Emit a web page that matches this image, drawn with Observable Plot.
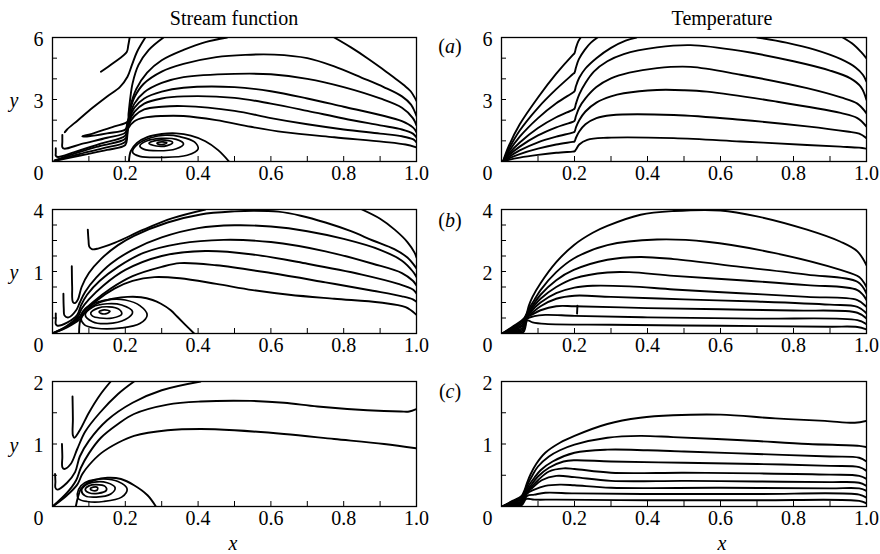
<!DOCTYPE html>
<html><head><meta charset="utf-8">
<script src="https://cdn.jsdelivr.net/npm/d3@7"></script>
<script src="https://cdn.jsdelivr.net/npm/@observablehq/plot@0.6"></script>
<style>
body{margin:0;background:#fff;}
#fig{position:relative;width:880px;height:554px;font-family:"Liberation Serif",serif !important;color:#000;overflow:hidden;}
#fig svg text{font-family:"Liberation Serif",serif !important;font-size:20px !important;}
.lbl{position:absolute;font-family:"Liberation Serif",serif !important;font-size:20px;line-height:1;white-space:nowrap;transform:translate(-50%,-50%);}
.it{font-style:italic;}
.panel{position:absolute;}
</style></head><body><div id="fig"></div>
<script>
// ---------- tick values / labels ----------
const xTickVals = [0.2, 0.4, 0.6, 0.8, 1.0];
const xTickText = ["0.2", "0.4", "0.6", "0.8", "1.0"];
const xMinorTicks = [0.1, 0.2, 0.3, 0.4, 0.5, 0.6, 0.7, 0.8, 0.9];
const yMinorA = [1, 2, 3, 4, 5];
const yMinorB = [0.5, 1, 1.5, 2, 2.5, 3, 3.5];
const yMinorC = [0.5, 1, 1.5];
const yLabelsStreamA = [[6, "6"], [3, "3"]];
const yLabelsTempA = [[6, "6"], [3, "3"]];
const yLabelsStreamB = [[4, "4"], [2, "1"]];
const yLabelsTempB = [[4, "4"], [2, "2"]];
const yLabelsStreamC = [[2, "2"], [1, "1"]];
const yLabelsTempC = [[2, "2"], [1, "1"]];

// ---------- Stream function (a) ----------
const streamA_lines = [
  [[0.133,4.34],[0.17,4.8],[0.204,5.3],[0.208,5.6],[0.212,6.0]],
  [[0.034,1.42],[0.04,1.55],[0.07,2.0],[0.11,2.6],[0.15,3.15],[0.185,3.6],[0.206,4.1],[0.218,4.66],[0.232,5.3],[0.255,6.0]],
  [[0.305,6.0],[0.264,5.39],[0.236,4.66],[0.22,3.78],[0.213,2.97],[0.209,2.33],[0.206,1.93],[0.17,1.7],[0.13,1.47],[0.1,1.3],[0.082,1.22],[0.1,1.22],[0.15,1.36],[0.2,1.55],[0.205,1.8],[0.212,2.4],[0.225,3.1],[0.25,3.75],[0.3,4.35],[0.36,4.72],[0.45,5.05],[0.53,5.16],[0.609,5.17],[0.7,5.0],[0.774,4.6],[0.85,4.05],[0.91,3.6],[0.96,3.15],[0.985,2.75],[1.0,2.2]],
  [[0.027,1.29],[0.027,0.95],[0.027,0.7],[0.032,0.62],[0.08,0.85],[0.15,1.15],[0.2,1.4],[0.205,1.7],[0.212,2.2],[0.225,2.8],[0.252,3.35],[0.3,3.8],[0.36,4.08],[0.5,4.24],[0.6,4.22],[0.7,4.0],[0.8,3.6],[0.9,3.05],[0.96,2.6],[0.99,2.1],[1.0,1.75]],
  [[0.009,0.64],[0.009,0.4],[0.009,0.28],[0.015,0.22],[0.06,0.45],[0.13,0.85],[0.2,1.25],[0.205,1.6],[0.211,2.05],[0.225,2.6],[0.252,3.05],[0.3,3.38],[0.36,3.57],[0.5,3.6],[0.6,3.4],[0.7,3.05],[0.8,2.65],[0.9,2.25],[0.96,1.95],[0.99,1.65],[1.0,1.42]],
  [[0.006,0.05],[0.06,0.38],[0.13,0.75],[0.2,1.1],[0.205,1.45],[0.21,1.9],[0.225,2.4],[0.252,2.8],[0.3,3.05],[0.36,3.15],[0.5,3.08],[0.6,2.8],[0.7,2.45],[0.8,2.08],[0.9,1.75],[0.96,1.55],[0.99,1.35],[1.0,1.17]],
  [[0.006,0.04],[0.07,0.34],[0.14,0.65],[0.2,0.95],[0.205,1.3],[0.209,1.75],[0.225,2.2],[0.252,2.52],[0.3,2.65],[0.36,2.68],[0.5,2.45],[0.6,2.1],[0.7,1.8],[0.8,1.55],[0.9,1.35],[0.96,1.22],[0.99,1.08],[1.0,0.93]],
  [[0.006,0.03],[0.08,0.3],[0.15,0.56],[0.2,0.8],[0.205,1.15],[0.208,1.6],[0.225,1.95],[0.252,2.12],[0.3,2.2],[0.36,2.2],[0.45,2.0],[0.545,1.68],[0.636,1.42],[0.774,1.17],[0.91,0.95],[0.97,0.82],[1.0,0.68]],
  [[0.774,6.0],[0.82,5.52],[0.865,5.0],[0.905,4.5],[0.939,4.05],[0.965,3.7],[0.984,3.4],[1.0,2.93]],
  [[0.212,2.55],[0.23,3.5],[0.26,4.3],[0.3,4.9],[0.36,5.4],[0.42,5.78],[0.48,6.0]],
  [[0.21,0.0],[0.215,0.5],[0.232,0.9],[0.26,1.18],[0.3,1.33],[0.34,1.36],[0.38,1.25],[0.42,0.98],[0.455,0.55],[0.485,0.0]]
];
const streamA_loops = [
  [[0.22,0.45],[0.235,0.85],[0.27,1.15],[0.31,1.27],[0.35,1.2],[0.39,0.95],[0.40,0.6],[0.37,0.3],[0.3,0.2],[0.24,0.25]],
  [[0.24,0.75],[0.26,1.0],[0.3,1.12],[0.34,1.07],[0.36,0.85],[0.34,0.62],[0.29,0.52],[0.25,0.6]],
  [[0.265,0.88],[0.28,1.0],[0.31,1.03],[0.33,0.92],[0.315,0.77],[0.285,0.75]],
  [[0.287,0.89],[0.3,0.95],[0.314,0.91],[0.305,0.83],[0.29,0.84]]
];

// ---------- Stream function (b) ----------
const streamB_lines = [
  [[0.097,3.35],[0.099,3.0],[0.101,2.8],[0.108,2.72],[0.125,2.74],[0.172,2.93],[0.25,3.35],[0.33,3.72],[0.42,4.0]],
  [[0.85,4.0],[0.9,3.7],[0.94,3.35],[0.975,2.95],[0.995,2.6],[1.0,2.45]],
  [[0.053,2.17],[0.054,1.5],[0.056,1.02],[0.062,0.98],[0.07,1.1],[0.08,1.5],[0.1,1.95],[0.133,2.4],[0.18,2.85],[0.224,3.15],[0.316,3.58],[0.407,3.84],[0.5,3.94],[0.554,3.96],[0.62,3.93],[0.682,3.8],[0.75,3.58],[0.82,3.3],[0.88,3.0],[0.939,2.72],[0.975,2.45],[1.0,2.1]],
  [[0.03,1.28],[0.031,0.8],[0.033,0.58],[0.044,0.52],[0.065,0.75],[0.075,1.0],[0.09,1.35],[0.12,1.8],[0.16,2.25],[0.22,2.7],[0.3,3.1],[0.4,3.4],[0.5,3.49],[0.6,3.45],[0.7,3.3],[0.8,3.05],[0.9,2.7],[0.96,2.35],[0.99,2.0],[1.0,1.82]],
  [[0.009,0.65],[0.009,0.45],[0.009,0.3],[0.014,0.25],[0.04,0.35],[0.068,0.6],[0.078,0.9],[0.095,1.25],[0.13,1.7],[0.18,2.15],[0.25,2.6],[0.35,2.9],[0.47,3.02],[0.6,2.95],[0.75,2.65],[0.88,2.25],[0.96,1.95],[0.99,1.7],[1.0,1.55]],
  [[0.003,0.02],[0.04,0.25],[0.07,0.55],[0.08,0.8],[0.1,1.1],[0.14,1.55],[0.2,2.05],[0.3,2.5],[0.42,2.66],[0.55,2.55],[0.7,2.25],[0.85,1.9],[0.95,1.6],[0.99,1.42],[1.0,1.29]],
  [[0.003,0.02],[0.04,0.22],[0.072,0.5],[0.085,0.72],[0.11,1.0],[0.16,1.45],[0.22,1.85],[0.3,2.15],[0.35,2.27],[0.45,2.2],[0.6,1.95],[0.75,1.65],[0.88,1.38],[0.96,1.2],[0.99,1.1],[1.0,1.02]],
  [[0.003,0.02],[0.04,0.2],[0.074,0.45],[0.09,0.7],[0.12,1.05],[0.17,1.45],[0.22,1.7],[0.28,1.82],[0.35,1.78],[0.45,1.6],[0.55,1.4],[0.65,1.25],[0.774,1.12],[0.9,1.0],[0.97,0.85],[1.0,0.6]],
  [[0.073,0.0],[0.076,0.4],[0.087,0.66],[0.11,0.88],[0.133,1.02],[0.17,1.13],[0.206,1.18],[0.243,1.17],[0.275,1.08],[0.298,0.96],[0.325,0.75],[0.343,0.54],[0.365,0.28],[0.389,0.0]]
];
const streamB_loops = [
  [[0.078,0.5],[0.09,0.8],[0.12,1.0],[0.16,1.1],[0.2,1.08],[0.24,0.9],[0.26,0.6],[0.24,0.32],[0.19,0.18],[0.12,0.17],[0.088,0.28]],
  [[0.09,0.6],[0.11,0.85],[0.15,0.96],[0.19,0.92],[0.22,0.7],[0.2,0.45],[0.15,0.32],[0.11,0.38]],
  [[0.105,0.66],[0.125,0.82],[0.155,0.86],[0.183,0.78],[0.19,0.62],[0.165,0.5],[0.13,0.5],[0.11,0.56]],
  [[0.128,0.7],[0.142,0.76],[0.158,0.72],[0.148,0.64],[0.133,0.65]]
];

// ---------- Stream function (c) ----------
const streamC_lines = [
  [[0.055,1.76],[0.056,1.4],[0.056,1.14],[0.06,1.1],[0.075,1.22],[0.1,1.5],[0.13,1.78],[0.16,2.0]],
  [[0.026,1.0],[0.027,0.8],[0.027,0.63],[0.032,0.6],[0.05,0.68],[0.068,0.92],[0.09,1.2],[0.13,1.5],[0.18,1.8],[0.224,2.0]],
  [[0.007,0.52],[0.008,0.4],[0.008,0.3],[0.013,0.27],[0.04,0.38],[0.062,0.55],[0.075,0.8],[0.1,1.05],[0.15,1.38],[0.22,1.66],[0.3,1.86],[0.407,2.0]],
  [[0.004,0.02],[0.04,0.22],[0.065,0.42],[0.078,0.62],[0.1,0.85],[0.133,1.1],[0.18,1.32],[0.224,1.48],[0.316,1.63],[0.407,1.68],[0.545,1.69],[0.636,1.66],[0.728,1.6],[0.865,1.54],[0.957,1.52],[0.98,1.52],[1.0,1.56]],
  [[0.003,0.01],[0.04,0.18],[0.068,0.35],[0.082,0.52],[0.1,0.66],[0.133,0.85],[0.18,1.02],[0.224,1.13],[0.316,1.22],[0.407,1.24],[0.5,1.22],[0.636,1.16],[0.774,1.08],[0.911,1.0],[1.0,0.93]],
  [[0.064,0.0],[0.07,0.15],[0.078,0.28],[0.095,0.37],[0.114,0.42],[0.151,0.46],[0.188,0.44],[0.224,0.34],[0.261,0.18],[0.284,0.0]]
];
const streamC_loops = [
  [[0.068,0.2],[0.078,0.33],[0.1,0.41],[0.14,0.44],[0.18,0.4],[0.205,0.28],[0.19,0.15],[0.14,0.08],[0.095,0.08],[0.072,0.12]],
  [[0.08,0.25],[0.09,0.34],[0.115,0.39],[0.15,0.38],[0.172,0.3],[0.16,0.2],[0.12,0.15],[0.09,0.17]],
  [[0.09,0.27],[0.1,0.33],[0.12,0.35],[0.145,0.32],[0.148,0.26],[0.125,0.21],[0.1,0.22]],
  [[0.104,0.28],[0.112,0.31],[0.124,0.3],[0.122,0.26],[0.108,0.26]]
];

// ---------- Temperature (a) ----------
const tempA_lines = [
  [[0.004,0],[0.02,0.75],[0.05,1.8],[0.1,3.1],[0.15,4.25],[0.195,5.15],[0.2,5.24],[0.204,5.5],[0.21,5.8],[0.217,6.0]],
  [[0.004,0],[0.02,0.6],[0.05,1.5],[0.1,2.6],[0.15,3.5],[0.195,4.22],[0.2,4.3],[0.204,4.55],[0.212,4.95],[0.228,5.4],[0.245,5.75],[0.263,6.0]],
  [[0.004,0],[0.02,0.48],[0.05,1.2],[0.1,2.1],[0.15,2.82],[0.195,3.33],[0.2,3.4],[0.204,3.65],[0.213,4.05],[0.23,4.5],[0.26,5.0],[0.3,5.5],[0.34,5.85],[0.37,6.0]],
  [[0.7,6.0],[0.78,5.75],[0.86,5.4],[0.93,4.95],[0.97,4.55],[0.99,4.2],[1.0,3.86]],
  [[0.935,6.0],[0.965,5.65],[0.985,5.3],[1.0,4.99]],
  [[0.004,0],[0.02,0.38],[0.05,0.92],[0.1,1.62],[0.15,2.14],[0.195,2.5],[0.2,2.56],[0.204,2.8],[0.213,3.25],[0.23,3.8],[0.253,4.35],[0.29,4.85],[0.335,5.2],[0.426,5.52],[0.518,5.63],[0.655,5.35],[0.8,4.85],[0.9,4.4],[0.956,4.02],[0.985,3.6],[1.0,2.98]],
  [[0.004,0],[0.02,0.3],[0.05,0.72],[0.1,1.26],[0.15,1.65],[0.195,1.92],[0.2,1.97],[0.204,2.2],[0.213,2.6],[0.23,3.05],[0.26,3.6],[0.3,4.02],[0.35,4.3],[0.426,4.52],[0.518,4.58],[0.655,4.2],[0.837,3.55],[0.93,3.1],[0.975,2.8],[1.0,2.33]],
  [[0.004,0],[0.02,0.22],[0.05,0.54],[0.1,0.93],[0.15,1.2],[0.195,1.4],[0.2,1.44],[0.204,1.65],[0.213,2.0],[0.23,2.42],[0.26,2.85],[0.3,3.15],[0.335,3.3],[0.426,3.46],[0.5,3.45],[0.563,3.38],[0.746,2.92],[0.929,2.35],[0.975,2.1],[1.0,1.69]],
  [[0.004,0],[0.02,0.15],[0.05,0.36],[0.1,0.62],[0.15,0.82],[0.195,0.95],[0.2,0.97],[0.204,1.15],[0.213,1.45],[0.23,1.8],[0.26,2.1],[0.3,2.24],[0.472,2.25],[0.655,2.02],[0.837,1.7],[0.947,1.45],[0.98,1.35],[1.0,1.13]],
  [[0.004,0],[0.02,0.08],[0.05,0.19],[0.1,0.32],[0.15,0.42],[0.195,0.48],[0.2,0.49],[0.204,0.58],[0.213,0.82],[0.235,1.05],[0.29,1.15],[0.472,1.13],[0.655,0.97],[0.837,0.8],[0.929,0.72],[0.98,0.67],[1.0,0.62]]
];

// ---------- Temperature (b) ----------
const tempB_lines = [
  [[0.002,0],[0.03,0.22],[0.06,0.47],[0.068,0.62],[0.075,0.9],[0.085,1.18],[0.107,1.62],[0.15,2.3],[0.198,2.85],[0.25,3.25],[0.29,3.47],[0.381,3.83],[0.472,3.95],[0.6,3.97],[0.7,3.78],[0.837,3.35],[0.929,2.96],[0.975,2.65],[1.0,2.2]],
  [[0.002,0],[0.03,0.19],[0.06,0.42],[0.068,0.6],[0.076,0.82],[0.09,1.08],[0.107,1.4],[0.15,1.98],[0.198,2.42],[0.29,2.85],[0.426,3.03],[0.563,2.96],[0.746,2.6],[0.929,2.05],[0.98,1.82],[1.0,1.5]],
  [[0.002,0],[0.03,0.16],[0.06,0.37],[0.068,0.58],[0.077,0.76],[0.09,0.98],[0.107,1.25],[0.15,1.72],[0.198,2.05],[0.29,2.38],[0.38,2.47],[0.472,2.4],[0.655,2.15],[0.837,1.9],[0.975,1.67],[1.0,1.29]],
  [[0.002,0],[0.03,0.13],[0.06,0.31],[0.068,0.56],[0.078,0.72],[0.09,0.9],[0.107,1.12],[0.15,1.5],[0.2,1.78],[0.29,1.97],[0.35,1.98],[0.472,1.86],[0.655,1.72],[0.837,1.56],[0.975,1.4],[1.0,1.08]],
  [[0.002,0],[0.03,0.1],[0.06,0.26],[0.068,0.54],[0.078,0.67],[0.09,0.82],[0.107,1.0],[0.15,1.3],[0.2,1.48],[0.25,1.54],[0.35,1.52],[0.472,1.42],[0.655,1.3],[0.837,1.18],[0.975,1.08],[1.0,0.86]],
  [[0.002,0],[0.03,0.08],[0.06,0.2],[0.068,0.52],[0.08,0.63],[0.107,0.88],[0.15,1.12],[0.2,1.22],[0.3,1.18],[0.5,1.1],[0.7,1.03],[0.9,0.93],[0.975,0.86],[1.0,0.65]],
  [[0.002,0],[0.03,0.06],[0.06,0.15],[0.069,0.5],[0.085,0.62],[0.107,0.75],[0.15,0.88],[0.2,0.88],[0.4,0.82],[0.6,0.78],[0.8,0.74],[0.975,0.67],[1.0,0.48]],
  [[0.002,0],[0.03,0.04],[0.06,0.1],[0.07,0.47],[0.09,0.56],[0.12,0.6],[0.2,0.57],[0.4,0.52],[0.7,0.48],[0.975,0.43],[1.0,0.3]],
  [[0.002,0],[0.03,0.02],[0.06,0.05],[0.071,0.42],[0.085,0.36],[0.12,0.31],[0.3,0.28],[0.6,0.25],[0.9,0.22],[0.975,0.21],[1.0,0.13]],
  [[0.207,0.64],[0.208,0.9]]
];

// ---------- Temperature (c) ----------
const tempC_lines = [
  [[0.002,0],[0.03,0.09],[0.055,0.17],[0.063,0.26],[0.07,0.38],[0.08,0.52],[0.095,0.68],[0.12,0.86],[0.16,1.02],[0.2,1.13],[0.29,1.32],[0.38,1.42],[0.47,1.46],[0.6,1.47],[0.75,1.41],[0.886,1.37],[0.968,1.34],[1.0,1.37]],
  [[0.002,0],[0.03,0.08],[0.055,0.15],[0.064,0.25],[0.072,0.36],[0.085,0.5],[0.1,0.64],[0.13,0.8],[0.16,0.9],[0.2,0.99],[0.29,1.1],[0.38,1.13],[0.47,1.11],[0.66,1.06],[0.84,1.0],[0.98,0.97],[1.0,0.95]],
  [[0.002,0],[0.03,0.07],[0.055,0.13],[0.065,0.24],[0.075,0.34],[0.09,0.46],[0.107,0.58],[0.14,0.72],[0.2,0.86],[0.29,0.91],[0.4,0.9],[0.5,0.88],[0.7,0.84],[0.9,0.8],[0.98,0.78],[1.0,0.72]],
  [[0.002,0],[0.03,0.06],[0.055,0.11],[0.066,0.23],[0.078,0.32],[0.1,0.48],[0.13,0.62],[0.17,0.72],[0.2,0.74],[0.3,0.72],[0.5,0.7],[0.7,0.68],[0.9,0.65],[0.98,0.63],[1.0,0.57]],
  [[0.002,0],[0.03,0.05],[0.055,0.09],[0.067,0.22],[0.08,0.3],[0.1,0.42],[0.13,0.56],[0.17,0.61],[0.2,0.6],[0.3,0.54],[0.5,0.54],[0.7,0.53],[0.9,0.51],[0.98,0.49],[1.0,0.44]],
  [[0.002,0],[0.03,0.04],[0.055,0.07],[0.068,0.21],[0.085,0.3],[0.11,0.42],[0.15,0.49],[0.2,0.47],[0.3,0.41],[0.5,0.41],[0.7,0.4],[0.9,0.39],[0.98,0.38],[1.0,0.33]],
  [[0.002,0],[0.03,0.03],[0.055,0.05],[0.069,0.2],[0.09,0.27],[0.12,0.33],[0.16,0.35],[0.2,0.34],[0.3,0.3],[0.6,0.3],[0.9,0.29],[0.98,0.29],[1.0,0.25]],
  [[0.002,0],[0.03,0.02],[0.055,0.035],[0.07,0.17],[0.09,0.19],[0.12,0.22],[0.2,0.21],[0.4,0.2],[0.7,0.2],[0.98,0.19],[1.0,0.14]],
  [[0.002,0],[0.03,0.01],[0.055,0.02],[0.068,0.12],[0.09,0.11],[0.15,0.11],[0.4,0.1],[0.7,0.1],[0.98,0.09],[1.0,0.05]]
];

// ---------- build ----------
const fig = document.getElementById("fig");
const SERIF = "Liberation Serif";
function toRows(curves) {
  return curves.flatMap((c, i) => c.map(p => ({x: p[0], y: p[1], id: i})));
}
function panel({lines, loops = [], ymax, yMinor, yLabels, left, frameTop, frameH, mLeft, mRight, zeroDx}) {
  const W = 440, mT = 15, mB = 40;
  const H = mT + frameH + mB;
  const fw = W - mLeft - mRight;
  const xl = xTickVals.map((v, i) => ({v, t: xTickText[i]}));
  const yl = yLabels.map(([v, t]) => ({v, t}));
  const txt = {fill: "black", fontFamily: SERIF, fontSize: 20};
  const svg = Plot.plot({
    width: W, height: H,
    marginLeft: mLeft, marginRight: mRight, marginTop: mT, marginBottom: mB,
    x: {domain: [0, 1], axis: null},
    y: {domain: [0, ymax], axis: null},
    style: {background: "transparent", overflow: "visible", color: "black"},
    marks: [
      Plot.line(toRows(lines), {x: "x", y: "y", z: "id", curve: "catmull-rom", stroke: "black", strokeWidth: 1.9, strokeLinejoin: "round", clip: true}),
      Plot.line(toRows(loops), {x: "x", y: "y", z: "id", curve: "catmull-rom-closed", stroke: "black", strokeWidth: 1.7, clip: true}),
      Plot.tickX(xMinorTicks, {x: d => d, insetTop: frameH - 5, stroke: "black", strokeWidth: 1}),
      Plot.tickY(yMinor, {y: d => d, insetRight: fw - 5, stroke: "black", strokeWidth: 1}),
      Plot.frame({stroke: "black", strokeWidth: 1.3}),
      Plot.text(xl, {x: "v", text: "t", frameAnchor: "bottom", dy: 18, ...txt}),
      Plot.text([0], {x: d => d, text: () => "0", frameAnchor: "bottom", dy: 18, dx: zeroDx, ...txt}),
      Plot.text(yl, {y: "v", text: "t", frameAnchor: "left", textAnchor: "end", dx: -9, dy: 2, ...txt})
    ]
  });
  svg.classList.add("panel");
  svg.style.left = left + "px";
  svg.style.top = (frameTop - mT) + "px";
  fig.appendChild(svg);
}

const L = {left: 0, mLeft: 52, mRight: 24, zeroDx: -14};
const R = {left: 440, mLeft: 61, mRight: 14, zeroDx: -14};
const rowA = {frameTop: 37, frameH: 124, ymax: 6, yMinor: yMinorA};
const rowB = {frameTop: 209, frameH: 124, ymax: 4, yMinor: yMinorB};
const rowC = {frameTop: 381, frameH: 125, ymax: 2, yMinor: yMinorC};

panel({...L, ...rowA, lines: streamA_lines, loops: streamA_loops, yLabels: yLabelsStreamA});
panel({...R, ...rowA, lines: tempA_lines, yLabels: yLabelsTempA});
panel({...L, ...rowB, lines: streamB_lines, loops: streamB_loops, yLabels: yLabelsStreamB});
panel({...R, ...rowB, lines: tempB_lines, yLabels: yLabelsTempB});
panel({...L, ...rowC, lines: streamC_lines, loops: streamC_loops, yLabels: yLabelsStreamC});
panel({...R, ...rowC, lines: tempC_lines, yLabels: yLabelsTempC});

// ---------- text labels ----------
function label(html, x, y, cls = "") {
  const d = document.createElement("div");
  d.className = "lbl " + cls;
  d.innerHTML = html;
  d.style.left = x + "px";
  d.style.top = y + "px";
  fig.appendChild(d);
}
label("Stream function", 234, 18);
label("Temperature", 722, 18);
label("(<i>a</i>)", 450, 46);
label("(<i>b</i>)", 450, 220);
label("(<i>c</i>)", 450, 391);
label("y", 14, 100, "it");
label("y", 14, 272, "it");
label("y", 14, 445, "it");
label("x", 233, 543, "it");
label("x", 722, 543, "it");
</script>
</body></html>
